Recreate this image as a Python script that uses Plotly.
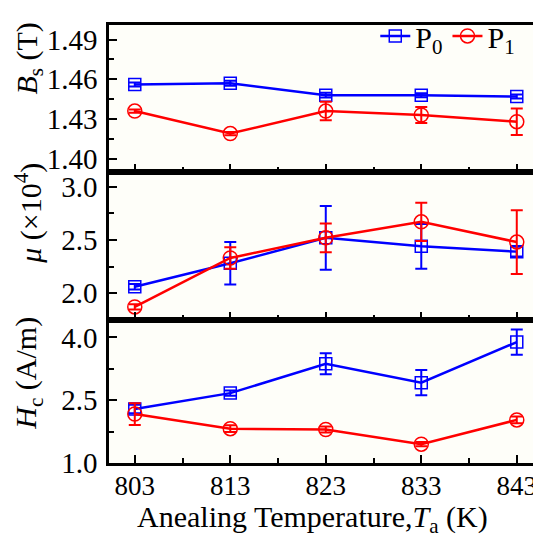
import plotly.graph_objects as go
from plotly.subplots import make_subplots

temps = [803, 813, 823, 833, 843]

bs_p0 = [1.456, 1.457, 1.448, 1.448, 1.447]
bs_p0_err = [0.0015, 0.0018, 0.0018, 0.0015, 0.0015]
bs_p1 = [1.436, 1.419, 1.436, 1.433, 1.428]
bs_p1_err = [0.0012, 0.0012, 0.007, 0.006, 0.010]

mu_p0 = [2.06, 2.28, 2.52, 2.44, 2.39]
mu_p0_err = [0.025, 0.20, 0.30, 0.21, 0.045]
mu_p1 = [1.87, 2.33, 2.52, 2.67, 2.48]
mu_p1_err = [0.025, 0.10, 0.135, 0.18, 0.30]

hc_p0 = [2.29, 2.67, 3.37, 2.92, 3.89]
hc_p0_err = [0.10, 0.06, 0.25, 0.30, 0.30]
hc_p1 = [2.17, 1.82, 1.80, 1.45, 2.03]
hc_p1_err = [0.26, 0.08, 0.07, 0.05, 0.08]

x_ticks = [803, 813, 823, 833, 843]

BLUE = "#0000ff"
RED = "#ff0000"
FONT = "Liberation Serif"
FS_XTICK = 27
FS_YTICK = 29
FS_YTITLE = 30
FS_XTITLE = 30
FS_LEGEND = 30

fig = make_subplots(rows=3, cols=1, shared_xaxes=True, vertical_spacing=0,
                    row_heights=[152, 153, 148])

def add_pair(row, p0, p0e, p1, p1e, show):
    fig.add_trace(go.Scatter(
        x=temps, y=p0, mode="lines+markers", name="P<sub>0</sub>",
        line=dict(color=BLUE, width=2.5),
        marker=dict(symbol="square-open", size=12, color=BLUE, line=dict(width=1.5)),
        error_y=dict(type="data", array=p0e, color=BLUE, thickness=2, width=6),
        showlegend=show, legendgroup="p0"), row=row, col=1)
    fig.add_trace(go.Scatter(
        x=temps, y=p1, mode="lines+markers", name="P<sub>1</sub>",
        line=dict(color=RED, width=2.5),
        marker=dict(symbol="circle-open", size=14, color=RED, line=dict(width=1.5)),
        error_y=dict(type="data", array=p1e, color=RED, thickness=2, width=6),
        showlegend=show, legendgroup="p1"), row=row, col=1)

add_pair(1, bs_p0, bs_p0_err, bs_p1, bs_p1_err, True)
add_pair(2, mu_p0, mu_p0_err, mu_p1, mu_p1_err, False)
add_pair(3, hc_p0, hc_p0_err, hc_p1, hc_p1_err, False)

axis_common = dict(showline=True, linecolor="black", linewidth=2.5, mirror=True,
                   ticks="inside", tickcolor="black", tickwidth=2, ticklen=8,
                   showgrid=False, zeroline=False)

for r in (1, 2, 3):
    fig.update_xaxes(range=[800.3, 844.7], tickvals=x_ticks,
                     minor=dict(ticks="inside", ticklen=5, tickwidth=2, tickcolor="black",
                                dtick=5, tick0=803),
                     tickfont=dict(family=FONT, size=FS_XTICK, color="black"),
                     ticklabelstandoff=-3,
                     showticklabels=(r == 3), row=r, col=1, **axis_common)

ytick_font = dict(family=FONT, size=FS_YTICK, color="black")
fig.update_yaxes(range=[1.39, 1.501], tickvals=[1.40, 1.43, 1.46, 1.49],
                 ticktext=["1.40", "1.43", "1.46", "1.49"],
                 minor=dict(ticks="inside", ticklen=5, tickwidth=2, tickcolor="black",
                            dtick=0.015, tick0=1.40),
                 ticklabelstandoff=3, tickfont=ytick_font,
                 row=1, col=1, **axis_common)
fig.update_yaxes(range=[1.748, 3.139], tickvals=[2.0, 2.5, 3.0],
                 ticktext=["2.0", "2.5", "3.0"],
                 minor=dict(ticks="inside", ticklen=5, tickwidth=2, tickcolor="black",
                            dtick=0.25, tick0=2.0),
                 ticklabelstandoff=3, tickfont=ytick_font,
                 row=2, col=1, **axis_common)
fig.update_yaxes(range=[1.0, 4.42], tickvals=[1.0, 2.5, 4.0],
                 ticktext=["1.0", "2.5", "4.0"],
                 minor=dict(ticks="inside", ticklen=5, tickwidth=2, tickcolor="black",
                            dtick=0.75, tick0=1.0),
                 ticklabelstandoff=3, tickfont=ytick_font,
                 row=3, col=1, **axis_common)

ytitle_font = dict(family=FONT, size=FS_YTITLE, color="black")
xtitle_font = dict(family=FONT, size=FS_XTITLE, color="black")
annotations = [
    dict(text="<i>B</i><sub>s</sub> (T)", x=-0.188, y=0.924, textangle=-90, font=ytitle_font),
    dict(text="<i>μ</i> (×10<sup>4</sup>)", x=-0.19, y=0.57, textangle=-90, font=ytitle_font),
    dict(text="<i>H</i><sub>c</sub> (A/m)", x=-0.19, y=0.205, textangle=-90, font=ytitle_font),
    dict(text="Anealing Temperature,<i>T</i><sub>a</sub> (K)", x=0.479, y=-0.128,
         textangle=0, font=xtitle_font),
]
for a in annotations:
    fig.add_annotation(xref="paper", yref="paper", showarrow=False,
                       xanchor="center", yanchor="middle", **a)

# page body adds an 8px margin, so the figure is sized/offset to compensate
fig.update_layout(
    width=533, height=530,
    margin=dict(l=101, r=8, t=2, b=75),
    paper_bgcolor="white", plot_bgcolor="#fefef9",
    font=dict(family=FONT, size=FS_XTITLE, color="black"),
    legend=dict(orientation="h", x=0.97, y=0.975, xanchor="right", yanchor="middle",
                bgcolor="rgba(0,0,0,0)", font=dict(family=FONT, size=FS_LEGEND),
                itemwidth=30, tracegroupgap=0),
)

fig.write_html("out.html")
